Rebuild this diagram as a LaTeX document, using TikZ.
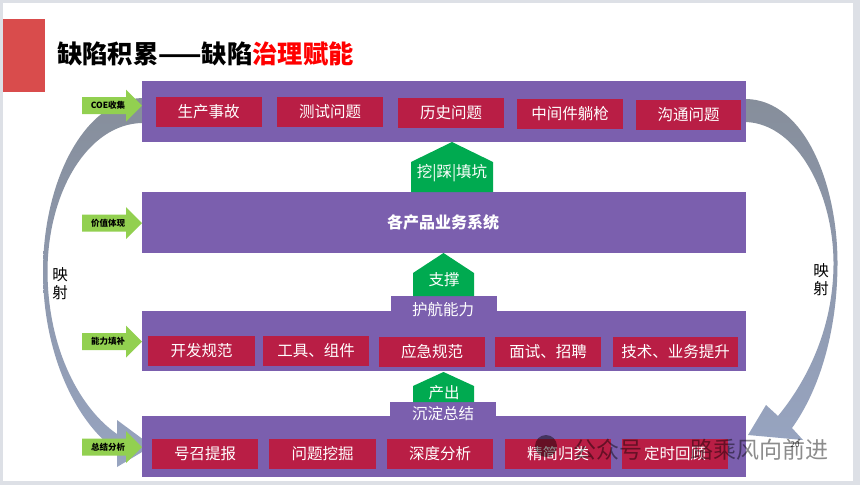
\documentclass[tikz,border=0pt]{standalone}
\usepackage{fontspec}
\setmainfont{Noto Sans CJK SC}
\definecolor{purp}{RGB}{123,95,174}
\definecolor{crim}{RGB}{185,30,69}
\definecolor{dgreen}{RGB}{0,170,80}
\definecolor{lgreen}{RGB}{146,208,80}
\definecolor{gtop}{RGB}{134,142,155}
\definecolor{gbot}{RGB}{151,164,192}
\definecolor{framec}{RGB}{221,224,230}
\definecolor{barred}{RGB}{217,76,76}
\begin{document}
\begin{tikzpicture}[x=1pt,y=-1pt,
 purplebox/.style={fill=purp, inner sep=0, minimum width=604, minimum height=61},
 redbox/.style={fill=crim, text=white, inner sep=0, minimum height=30, font=\fontsize{15.5}{15.5}\selectfont},
 pentatext/.style={text=white, inner sep=0, font=\fontsize{15.5}{15.5}\selectfont},
 arrowlabel/.style={inner sep=0, font=\bfseries\fontsize{8.5}{8.5}\selectfont},
 maplabel/.style={inner sep=0, align=center, font=\fontsize{15.5}{18}\selectfont},
 wmark/.style={inner sep=0, text=black, text opacity=0.45, font=\fontsize{23}{23}\selectfont},
]
\useasboundingbox (0,0) rectangle (860,485);
% frame
\fill[framec] (0,0) rectangle (860,485);
\fill[white] (3,3) rectangle (853,481);
% red bar and title
\fill[barred] (3,19) rectangle (45,92);
\node[anchor=west, inner sep=0, font=\bfseries\fontsize{25.3}{25.3}\selectfont] (title) at (57,53.5) {缺陷积累——缺陷\textcolor{red}{治理赋能}};

% curved gray arrows
\shade[top color=gtop, bottom color=gbot] (142,98) .. controls (85,100) and (43,180) .. (43,272) .. controls (43,352) and (75,422) .. (117,451) -- (117,467) -- (152,446) -- (117,420) -- (117,434) .. controls (82,410) and (48,352) .. (47.5,272) .. controls (47.5,192) and (88,124) .. (142,123) -- cycle;
\shade[top color=gtop, bottom color=gbot] (746,99) .. controls (805,100) and (838,185) .. (837.5,265) .. controls (837,335) and (818,392) .. (792,428) -- (803,440) -- (748,435) -- (766,405) -- (778,416) .. controls (806,382) and (833,330) .. (833.5,265) .. controls (834,195) and (798,124) .. (746,122) -- cycle;

\node[maplabel] (mapl) at (60,284) {映\\射};
\node[maplabel] (mapr) at (821,280) {映\\射};

% purple boxes
\node[purplebox] (box1) at (444,111.5) {};
\node[purplebox] (box2) at (444,222.5) {};
\node[purplebox, minimum height=60] (box3) at (444,341) {};
\node[purplebox] (box4) at (444,446.5) {};

% row 1
\node[redbox, minimum width=106] (r11) at (208.5,112) {生产事故};
\node[redbox, minimum width=106] (r12) at (330,112) {测试问题};
\node[redbox, minimum width=106] (r13) at (451,113) {历史问题};
\node[redbox, minimum width=106] (r14) at (570,113.5) {中间件躺枪};
\node[redbox, minimum width=105] (r15) at (688.5,114.5) {沟通问题};

% middle
\node[inner sep=0, text=white, font=\bfseries\fontsize{16}{16}\selectfont] (sys) at (443,222) {各产品业务系统};

% row 3
\node[redbox, minimum width=107] (r31) at (201.5,351) {开发规范};
\node[redbox, minimum width=106] (r32) at (316,351) {工具、组件};
\node[redbox, minimum width=106] (r33) at (432,351.5) {应急规范};
\node[redbox, minimum width=106] (r34) at (548,351.5) {面试、招聘};
\node[redbox, minimum width=125] (r35) at (675.5,352) {技术、业务提升};

% row 4
\node[redbox, minimum width=106] (r41) at (205,454) {号召提报};
\node[redbox, minimum width=107] (r42) at (322.5,453.5) {问题挖掘};
\node[redbox, minimum width=106] (r43) at (440,454) {深度分析};
\node[redbox, minimum width=106] (r44) at (558,454) {精简归类};
\node[redbox, minimum width=106] (r45) at (675,454) {定时回顾};

% tabs
\fill[purp] (391,296) rectangle (497,312);
\fill[purp] (390,402) rectangle (496,417);
\node[pentatext] (tab3) at (443,310) {护航能力};
\node[pentatext] (tab4) at (443,414) {沉淀总结};

% pentagons
\fill[dgreen] (411,192) -- (411,162) -- (452,142) -- (493,162) -- (493,192) -- cycle;
\fill[dgreen] (413,296) -- (413,273) -- (443.5,253) -- (474,273) -- (474,296) -- cycle;
\fill[dgreen] (413,402) -- (413,386) -- (443.5,372) -- (474,386) -- (474,402) -- cycle;
\node[pentatext] (p1) at (452,173) {挖|踩|填坑};
\node[pentatext] (p2) at (444,280) {支撑};
\node[pentatext] (p3) at (444,393) {产出};

% green arrows
\foreach \cy/\lab/\nm in {105.5/COE收集/ga, 223/价值体现/gb, 341.5/能力填补/gc, 447/总结分析/gd} {
 \fill[lgreen] (82,\cy-8.5) -- (126,\cy-8.5) -- (126,\cy-16) -- (142,\cy) -- (126,\cy+16) -- (126,\cy+8.5) -- (82,\cy+8.5) -- cycle;
 \node[arrowlabel] (\nm) at (108,\cy) {\lab};
}

% page number and watermark
\node[inner sep=0, text=black!75, font=\fontsize{8}{8}\selectfont] (pnum) at (795,445) {20};
\fill[black, opacity=0.45] (546,446) circle (11);
\node[wmark, anchor=west] (wm1) at (573,450) {公众号};
\node[wmark, anchor=west] (wm2) at (690,450) {路乘风向前进};
\end{tikzpicture}
\end{document}
